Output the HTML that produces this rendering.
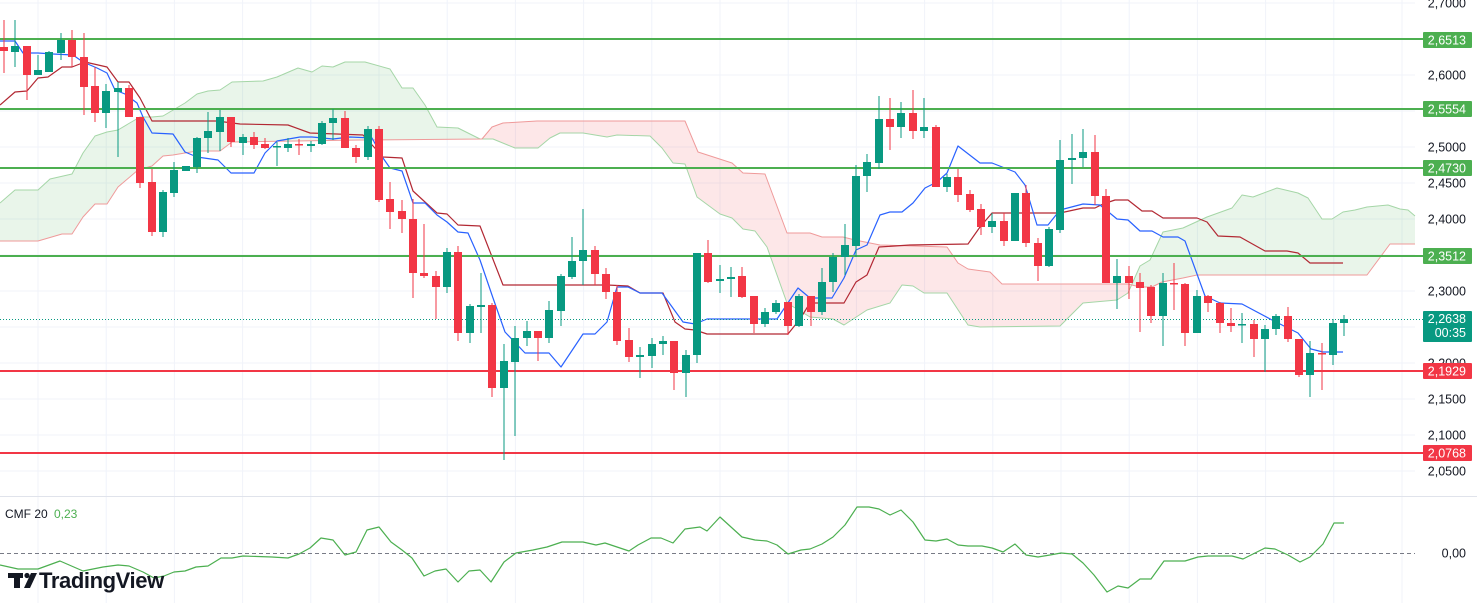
<!DOCTYPE html>
<html><head><meta charset="utf-8">
<style>
html,body{margin:0;padding:0;background:#fff;width:1477px;height:603px;overflow:hidden}
svg{display:block}
text{font-family:"Liberation Sans",sans-serif}
</style></head>
<body>
<svg id="s" width="1477" height="603" viewBox="0 0 1477 603" xmlns="http://www.w3.org/2000/svg">
<rect width="1477" height="603" fill="#fff"/>
<g id="grid"></g>
<g id="cloud"></g>
<g id="lines"></g>
<g id="levels"></g>
<g id="candles"></g>
<g id="cmf"></g>
<g id="axis"></g>
<!-- logo -->
<g fill="#131722">
<rect x="8" y="573" width="15" height="5"/>
<rect x="14" y="573" width="6" height="15"/>
<circle cx="27" cy="575.5" r="2.6"/>
<polygon points="31,573 37,573 30,588 24,588"/>
<text x="39" y="588" font-size="22" font-weight="bold" letter-spacing="-0.4">TradingView</text>
</g>
<text x="5" y="518" font-size="12" fill="#131722">CMF 20</text>
<text x="54" y="518" font-size="12" fill="#4caf50">0,23</text>
</svg>
<script>
var NS="http://www.w3.org/2000/svg";
function el(p,t,a){var e=document.createElementNS(NS,t);for(var k in a)e.setAttribute(k,a[k]);document.getElementById(p).appendChild(e);return e;}
for(var k=0;k<21;k++){var gx=38+68.2*k;if(gx>1415)break;el("grid","line",{x1:gx,y1:0,x2:gx,y2:603,stroke:"#f0f3fa","stroke-width":1});}
[3,39,75,111,147,183,219,255,291,327,363,399,435,471].forEach(function(y){el("grid","line",{x1:0,y1:y,x2:1415,y2:y,stroke:"#f0f3fa","stroke-width":1});});
el("grid","line",{x1:0,y1:496.5,x2:1477,y2:496.5,stroke:"#e0e3eb","stroke-width":1});
function interp(pts,x){if(x<=pts[0][0])return pts[0][1];for(var i=1;i<pts.length;i++){if(x<=pts[i][0]){var a=pts[i-1],b=pts[i];return a[1]+(b[1]-a[1])*(x-a[0])/(b[0]-a[0]);}}return pts[pts.length-1][1];}
var A=[[0,203],[15,190],[38,190],[50,179],[72,174],[83,153],[95,136],[107,132],[118,130],[128,124],[140,117],[152,117],[163,116],[185,103],[197,94],[208,91],[220,90],[232,82],[263,81],[277,77],[298,68],[312,72],[322,66],[333,67],[345,62],[365,62],[390,69],[402,88],[413,88],[425,105],[437,127],[458,128],[480,139],[493,139],[515,148],[538,148],[550,138],[560,133],[583,133],[607,137],[617,135],[650,136],[662,148],[673,163],[685,164],[697,197],[720,214],[732,218],[743,229],[755,231],[767,247],[787,303],[810,317],[833,319],[844,325],[867,310],[890,303],[902,285],[913,286],[924,293],[947,293],[968,325],[980,327],[1060,326],[1083,303],[1117,300],[1128,293],[1140,266],[1150,260],[1163,232],[1183,228],[1207,217],[1232,208],[1242,195],[1253,197],[1277,188],[1298,193],[1308,198],[1322,219],[1332,219],[1343,212],[1355,210],[1367,207],[1388,205],[1400,209],[1408,210],[1415,216]];
var B=[[0,241],[38,241],[62,234],[72,234],[83,217],[95,204],[107,204],[118,187],[138,170],[152,166],[163,156],[173,155],[185,153],[197,151],[220,151],[232,142],[360,140],[482,139],[492,127],[503,123],[537,121],[685,121],[698,152],[732,163],[743,173],[765,174],[787,233],[810,233],[822,237],[843,237],[855,240],[880,245],[947,247],[958,263],[968,269],[990,272],[1002,284],[1128,284],[1140,287],[1152,287],[1162,282],[1183,278],[1197,275],[1367,275],[1390,244],[1415,244]];
(function(){var runA=[],runB=[],sign=null;
function flush(){if(runA.length<2)return;var pts=runA.concat(runB.slice().reverse()).map(function(p){return p[0].toFixed(1)+","+p[1].toFixed(1)}).join(" ");
el("cloud","polygon",{points:pts,fill:sign?"rgba(76,175,80,0.12)":"rgba(242,54,69,0.12)"});}
for(var x=0;x<=1415;x+=1){var a=interp(A,x),b=interp(B,x);var s=a<=b;
if(sign===null)sign=s;
if(s!==sign){runA.push([x,a]);runB.push([x,b]);flush();runA=[[x,a]];runB=[[x,b]];sign=s;}
else{runA.push([x,a]);runB.push([x,b]);}}
flush();})();
function pl(pts,c,w){el("lines","polyline",{points:pts.map(function(p){return p.join(",")}).join(" "),fill:"none",stroke:c,"stroke-width":w,"stroke-linejoin":"round"});}
pl(A,"#a5d6a7",1);pl(B,"#ef9a9a",1);
var T=[[0,41],[15,41],[23,53],[38,53],[53,54],[73,55],[83,62],[97,68],[107,73],[115,90],[125,94],[137,103],[143,117],[152,133],[173,134],[185,152],[197,157],[218,160],[231,173],[254,173],[265,153],[277,141],[300,137],[312,137],[333,139],[350,137],[372,138],[383,158],[390,168],[402,171],[413,203],[425,203],[437,215],[447,222],[458,232],[468,233],[480,260],[493,298],[505,332],[525,353],[549,353],[561,367],[583,334],[595,334],[607,322],[617,287],[628,287],[640,293],[662,293],[683,322],[695,324],[707,319],[777,319],[798,288],[810,298],[832,298],[844,278],[856,250],[867,245],[880,215],[890,212],[902,212],[913,203],[925,188],[937,182],[947,173],[958,146],[980,163],[992,163],[1015,172],[1025,185],[1037,225],[1048,225],[1060,210],[1083,204],[1100,205],[1117,219],[1128,220],[1140,231],[1152,231],[1163,237],[1178,237],[1185,241],[1205,296],[1220,303],[1242,304],[1272,320],[1298,333],[1311,349],[1323,352],[1343,352]];
var K=[[0,105],[15,92],[27,91],[38,78],[48,77],[62,67],[72,67],[85,62],[107,67],[118,82],[129,82],[140,98],[152,121],[217,121],[240,124],[288,125],[310,133],[363,135],[383,157],[402,158],[413,191],[437,213],[447,214],[458,225],[480,226],[503,285],[607,285],[628,286],[640,293],[663,293],[675,322],[685,329],[695,330],[707,334],[788,334],[800,319],[810,303],[844,303],[856,282],[867,275],[879,247],[910,245],[968,244],[980,227],[992,213],[1060,213],[1083,208],[1095,208],[1103,204],[1115,200],[1128,200],[1142,211],[1152,211],[1163,218],[1197,218],[1207,222],[1218,236],[1240,237],[1265,251],[1287,251],[1298,253],[1310,263],[1343,263]];
pl(K,"#b22833",1.2);pl(T,"#2962ff",1.2);
[[39,"#4caf50"],[109,"#4caf50"],[168,"#4caf50"],[256,"#4caf50"],[371,"#f23645"],[453,"#f23645"]].forEach(function(l){el("levels","line",{x1:0,y1:l[0],x2:1423,y2:l[0],stroke:l[1],"stroke-width":2});});
el("levels","line",{x1:0,y1:319.5,x2:1423,y2:319.5,stroke:"#089981","stroke-width":1,"stroke-dasharray":"1,2"});
var D=[[0,47,51,20,73],[1,46,52,20,67],[0,46,75,46,100],[1,70,75,55,75],[1,52,72,51,72],[1,40,53,33,60],[0,40,57,30,67],[0,57,87,33,115],[0,86,113,67,122],[1,91,113,84,128],[1,88,92,82,157],[0,88,117,85,117],[0,117,183,117,188],[0,182,232,169,236],[1,192,232,190,237],[1,170,193,162,197],[1,166,171,166,171],[1,138,167,137,173],[1,131,138,112,153],[1,117,132,110,151],[0,117,142,117,147],[1,137,143,134,155],[0,137,145,132,149],[0,144,148,138,149],[1,146,147,142,166],[1,144,148,138,152],[0,144,145,139,155],[1,144,146,141,152],[1,123,144,121,145],[1,118,123,109,140],[0,118,148,111,148],[0,148,157,145,163],[1,129,157,126,160],[0,129,200,126,202],[0,199,212,182,229],[0,211,219,200,233],[0,219,273,199,298],[0,273,276,224,278],[0,276,287,271,319],[1,252,287,248,293],[0,252,333,246,341],[1,306,333,304,343],[1,305,307,273,333],[0,305,388,303,397],[1,361,388,344,460],[1,338,362,326,436],[1,331,338,321,346],[0,331,338,331,361],[1,310,338,301,343],[1,276,311,274,326],[1,261,277,237,279],[1,250,261,209,285],[0,250,274,246,285],[0,274,292,268,299],[0,292,341,285,345],[0,340,357,328,362],[1,355,357,347,378],[1,344,356,338,368],[1,341,344,336,355],[0,341,373,341,390],[1,355,373,350,397],[1,253,355,253,363],[0,253,282,240,283],[1,279,281,265,293],[1,277,279,267,297],[0,276,297,267,298],[0,296,324,296,333],[1,312,324,308,327],[1,303,312,300,314],[0,302,326,302,335],[1,296,326,294,327],[0,296,312,296,326],[1,282,312,268,315],[1,257,282,253,292],[1,245,257,224,275],[1,176,246,165,257],[1,162,176,154,192],[1,119,163,96,169],[0,119,127,98,150],[1,113,127,102,138],[0,113,131,90,139],[1,127,131,98,138],[0,127,187,125,187],[1,177,187,174,192],[0,177,195,169,202],[0,194,210,190,212],[0,209,227,204,235],[1,221,227,213,233],[0,221,241,213,246],[1,193,241,193,241],[0,193,243,185,247],[0,243,266,238,281],[1,229,266,227,267],[1,160,230,140,233],[1,158,160,134,184],[1,152,158,129,167],[0,152,196,135,205],[0,196,283,189,283],[1,276,283,259,309],[0,276,283,266,299],[0,282,288,273,332],[0,287,316,285,323],[1,283,316,273,346],[0,283,284,263,310],[0,284,333,283,346],[1,296,333,290,333],[0,296,303,295,312],[0,303,323,302,333],[0,323,326,308,332],[1,324,325,313,343],[0,324,339,320,357],[1,329,339,325,372],[1,316,329,314,335],[0,316,339,307,342],[0,339,375,339,377],[1,353,375,341,397],[0,353,354,343,390],[1,323,355,319,365],[1,319,323,315,336]];
D.forEach(function(d,i){var x=Math.round(4+11.36*i);var c=d[0]?"#089981":"#f23645";
el("candles","rect",{x:x-0.5,y:d[3],width:1,height:Math.max(1,d[4]-d[3]),fill:c});
el("candles","rect",{x:x-4,y:d[1],width:8,height:Math.max(1.5,d[2]-d[1]),fill:c});});
el("cmf","line",{x1:0,y1:553.5,x2:1415,y2:553.5,stroke:"#787b86","stroke-width":1,"stroke-dasharray":"4,3"});
var C=[[0,565],[18,569],[38,569],[60,561],[83,571],[103,567],[118,565],[129,566],[143,572],[154,578],[164,576],[174,572],[185,571],[196,567],[208,566],[221,558],[232,558],[243,556],[272,557],[288,558],[299,554],[310,548],[321,538],[333,540],[345,555],[356,552],[367,530],[379,527],[391,542],[402,550],[412,558],[424,576],[435,571],[446,569],[458,582],[469,571],[480,570],[491,582],[504,562],[516,553],[533,550],[547,547],[562,542],[571,542],[583,542],[596,545],[605,543],[629,551],[638,545],[651,538],[661,538],[673,543],[685,529],[700,527],[707,531],[720,517],[742,537],[755,540],[767,541],[777,545],[788,554],[801,550],[810,549],[822,544],[833,537],[845,525],[857,507],[869,507],[879,509],[890,515],[901,510],[913,522],[925,540],[936,541],[947,539],[958,545],[968,546],[982,546],[992,548],[1003,552],[1015,544],[1026,555],[1038,557],[1050,555],[1061,553],[1072,554],[1083,563],[1094,575],[1107,592],[1118,586],[1128,588],[1140,579],[1151,579],[1164,561],[1185,561],[1198,557],[1208,556],[1221,556],[1232,556],[1243,559],[1255,553],[1265,548],[1275,549],[1288,555],[1300,562],[1310,557],[1323,544],[1334,523],[1344,523]];
el("cmf","polyline",{points:C.map(function(p){return p.join(",")}).join(" "),fill:"none",stroke:"#4caf50","stroke-width":1.2,"stroke-linejoin":"round"});
[["2,7000",3],["2,6000",75],["2,5000",147],["2,4500",183],["2,4000",219],["2,3000",291],["2,2000",363],["2,1500",399],["2,1000",435],["2,0500",471],["0,00",553]].forEach(function(t){var e=el("axis","text",{x:1466,y:t[1]+4.5,"font-size":12.5,fill:"#131722","text-anchor":"end"});e.textContent=t[0];});
function box(y1,y2,c,txt){el("axis","rect",{x:1423,y:y1,width:49,height:y2-y1,fill:c,rx:1});var e=el("axis","text",{x:1466,y:(y1+y2)/2+4.5,"font-size":12.5,fill:"#fff","text-anchor":"end"});e.textContent=txt;}
box(32,48,"#4caf50","2,6513");box(101,117,"#4caf50","2,5554");box(160,176,"#4caf50","2,4730");box(248,264,"#4caf50","2,3512");
box(363,379,"#f23645","2,1929");box(445,461,"#f23645","2,0768");
el("axis","rect",{x:1423,y:311,width:49,height:31,fill:"#089981",rx:1});
var t1=el("axis","text",{x:1466,y:323,"font-size":12.5,fill:"#fff","text-anchor":"end"});t1.textContent="2,2638";
var t2=el("axis","text",{x:1466,y:337,"font-size":12.5,fill:"#fff","text-anchor":"end"});t2.textContent="00:35";
</script>
</body></html>
